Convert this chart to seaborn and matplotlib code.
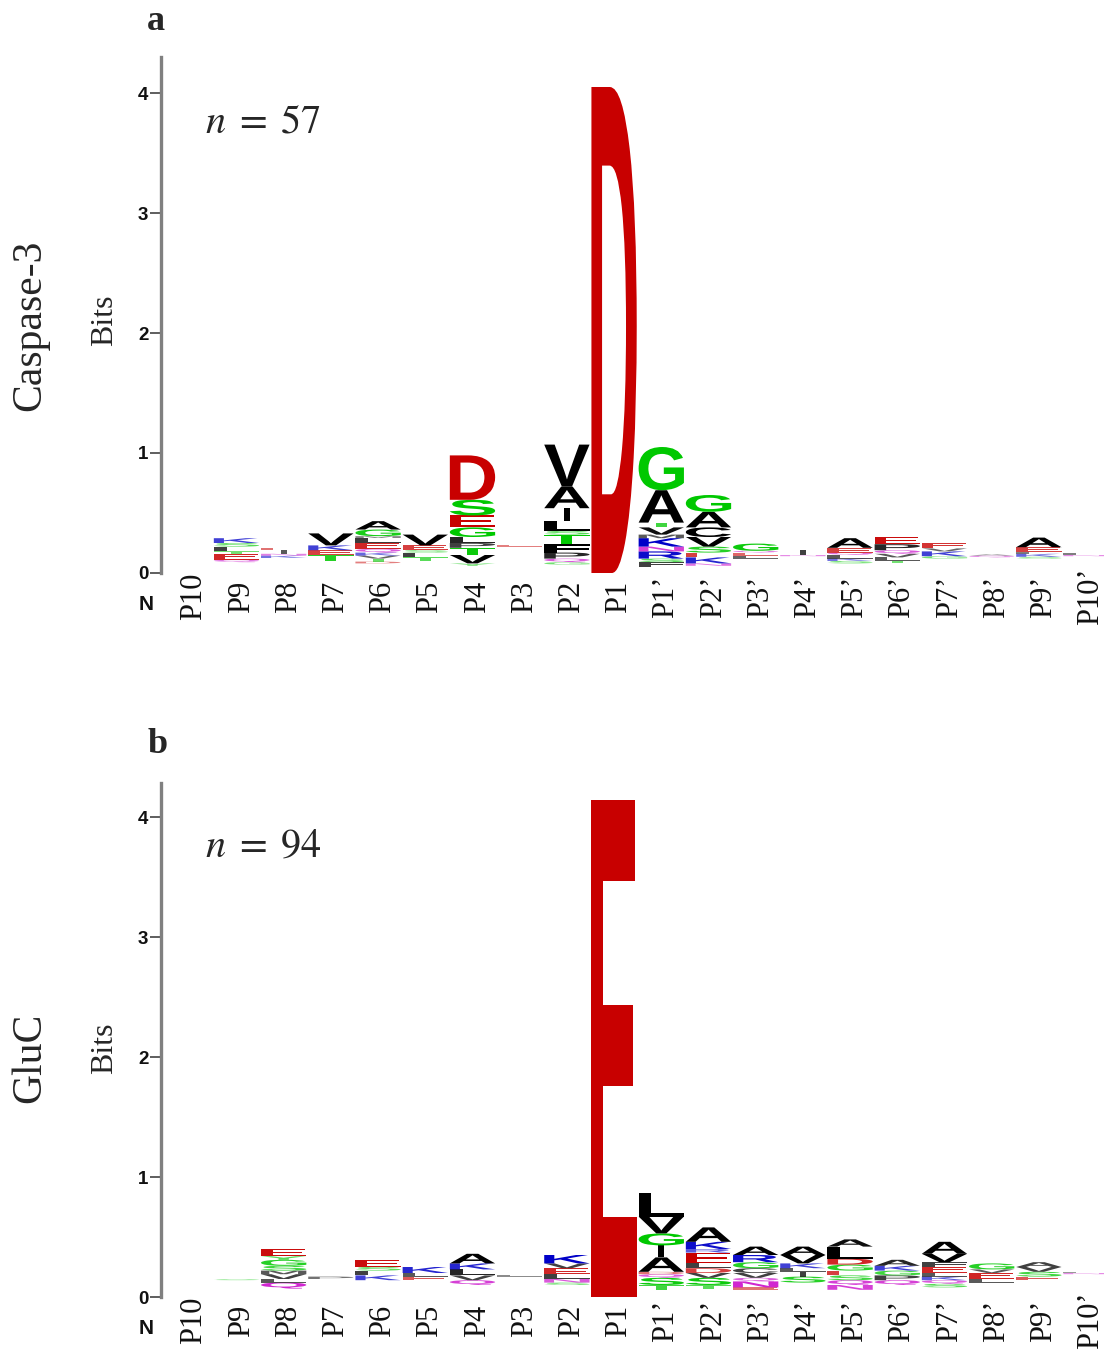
import matplotlib
matplotlib.use("Agg")
import matplotlib.pyplot as plt
import seaborn as sns
from matplotlib.textpath import TextPath
from matplotlib.patches import PathPatch
from matplotlib.font_manager import FontProperties
from matplotlib.transforms import Affine2D

# ---------------- data ----------------
positions = ["P10", "P9", "P8", "P7", "P6", "P5", "P4", "P3", "P2", "P1",
             "P1\u2019", "P2\u2019", "P3\u2019", "P4\u2019", "P5\u2019",
             "P6\u2019", "P7\u2019", "P8\u2019", "P9\u2019", "P10\u2019"]

# Caspase-3: residues (bottom -> top), heights in bits, and the bits taken by
# residues too small to be seen (drawn as an empty offset at the bottom)
casp_minor = [0.0, 0.09, 0.125, 0.10, 0.08, 0.10, 0.06, 0.22, 0.07, 0.0,
              0.05, 0.06, 0.12, 0.14, 0.08, 0.08, 0.12, 0.13, 0.12, 0.14]
casp_letters = ["", "QETLSK", "KNIE", "TEKV", "DTVKQELMGA", "TLSEV",
                "YVTPLGESD", "E", "GQPFTSLIAV", "D",
                "FSRNKMVTAG", "NKESVCAG", "LEQG", "NI", "SKLQEA",
                "TLVQPE", "GKVE", "QA", "SKLEA", "NL"]
casp_heights = [[], [0.02, 0.05, 0.02, 0.04, 0.03, 0.04],
                [0.02, 0.015, 0.03, 0.02],
                [0.05, 0.04, 0.04, 0.10],
                [0.015, 0.025, 0.025, 0.025, 0.03, 0.05, 0.042, 0.015, 0.055, 0.07],
                [0.03, 0.04, 0.02, 0.04, 0.09],
                [0.02, 0.07, 0.06, 0.04, 0.05, 0.08, 0.10, 0.13, 0.37],
                [0.015],
                [0.02, 0.03, 0.05, 0.07, 0.08, 0.03, 0.08, 0.11, 0.18, 0.35],
                [4.05],
                [0.04, 0.03, 0.06, 0.04, 0.07, 0.03, 0.06, 0.04, 0.27, 0.36],
                [0.02, 0.05, 0.04, 0.05, 0.08, 0.08, 0.13, 0.14],
                [0.025, 0.025, 0.015, 0.06],
                [0.01, 0.04],
                [0.02, 0.02, 0.03, 0.02, 0.04, 0.08],
                [0.02, 0.03, 0.03, 0.03, 0.05, 0.06],
                [0.02, 0.04, 0.025, 0.045],
                [0.015, 0.01],
                [0.015, 0.025, 0.015, 0.04, 0.08],
                [0.01, 0.015]]

# GluC
gluc_minor = [0.0, 0.14, 0.07, 0.15, 0.14, 0.14, 0.10, 0.17, 0.10, 0.0,
              0.06, 0.07, 0.06, 0.12, 0.06, 0.10, 0.08, 0.12, 0.14, 0.19]
gluc_letters = ["", "S", "QLVMSGYE", "P", "KLSE", "ELK", "QVLKA", "L",
                "SNLEVK", "E", "TSQDAIGVL", "TSVDLERKA", "ENQVCGRA",
                "SILKVA", "NQSEGDLA", "QPGKA", "SQKLEFVA", "LEVG", "ESVA", "NL"]
gluc_heights = [[], [0.01],
                [0.05, 0.03, 0.04, 0.03, 0.04, 0.05, 0.03, 0.06],
                [0.02],
                [0.04, 0.04, 0.03, 0.06],
                [0.03, 0.03, 0.05],
                [0.04, 0.04, 0.05, 0.05, 0.08],
                [0.01],
                [0.02, 0.03, 0.04, 0.05, 0.04, 0.07],
                [4.14],
                [0.04, 0.06, 0.03, 0.02, 0.12, 0.10, 0.10, 0.14, 0.20],
                [0.03, 0.06, 0.04, 0.04, 0.04, 0.09, 0.03, 0.06, 0.12],
                [0.02, 0.05, 0.03, 0.04, 0.04, 0.05, 0.06, 0.07],
                [0.05, 0.04, 0.03, 0.04, 0.07, 0.07],
                [0.04, 0.04, 0.04, 0.04, 0.05, 0.05, 0.10, 0.06],
                [0.04, 0.04, 0.04, 0.04, 0.05],
                [0.03, 0.03, 0.03, 0.03, 0.05, 0.04, 0.07, 0.10],
                [0.03, 0.05, 0.03, 0.05],
                [0.03, 0.04, 0.04, 0.04],
                [0.01, 0.005]]

panel_tags = ["a", "b"]
panel_names = ["Caspase-3", "GluC"]
panel_n = [57, 94]
yticks = [0, 1, 2, 3, 4]

# residue colour groups (chemistry scheme)
groups = {"GSTY": "#00c800", "NQ": "#c800c8", "KRH": "#0000c8",
          "DE": "#c80000", "AVLIPWFMC": "#000000"}
res_color = {aa: col for k, col in groups.items() for aa in k}

# ---------------- style ----------------
sns.set_theme(style="white")
plt.rcParams["font.family"] = ["Liberation Serif", "DejaVu Serif"]
plt.rcParams["mathtext.fontset"] = "stix"

W, H = 1104, 1359
fig = plt.figure(figsize=(W / 100, H / 100), dpi=100)

FP = FontProperties(family="Liberation Sans", weight="bold")
_cache = {}


def glyph(ch):
    if ch not in _cache:
        _cache[ch] = TextPath((0, 0), ch, size=1, prop=FP)
    return _cache[ch]


def draw_letter(ax, ch, x, y0, h, width=0.96):
    p = glyph(ch)
    bb = p.get_extents()
    w = width * (0.13 if ch == "I" else 1.0)
    tr = (Affine2D().translate(-bb.x0, -bb.y0)
          .scale(w / bb.width, h / bb.height)
          .translate(x - w / 2, y0))
    alpha = min(1.0, 0.35 + 10.0 * h)
    ax.add_patch(PathPatch(tr.transform_path(p), fc=res_color[ch], lw=0, alpha=alpha))


def draw_logo(ax, minor, letters, heights, shift=-0.1):
    for i, (m, lets, hs) in enumerate(zip(minor, letters, heights)):
        y = m
        for ch, h in zip(lets, hs):
            draw_letter(ax, ch, i + shift, y, h)
            y += h


panels = [
    dict(ax_rect=(161, 573, 57), minor=casp_minor, letters=casp_letters,
         heights=casp_heights, tag_xy=(156, 22), n_y=123, name_y=325, bits_y=320),
    dict(ax_rect=(161, 1297, 783), minor=gluc_minor, letters=gluc_letters,
         heights=gluc_heights, tag_xy=(158, 745), n_y=847, name_y=1058, bits_y=1048),
]

px = 47.2
x0c = 194
for k, pnl in enumerate(panels):
    left, ybot, ytop = pnl["ax_rect"]
    ax = fig.add_axes([left / W, 1 - ybot / H, (W - left) / W, (ybot - ytop) / H])
    draw_logo(ax, pnl["minor"], pnl["letters"], pnl["heights"])
    ax.set_xlim((left - x0c) / px, (W - x0c) / px)
    ax.set_ylim(0, (ybot - ytop) / 120.0)
    sns.despine(ax=ax, top=True, right=True, bottom=True, left=False)
    ax.spines["left"].set_color("#808080")
    ax.spines["left"].set_linewidth(2.4)
    ax.set_yticks(yticks)
    ax.set_yticklabels([str(v) for v in yticks], fontfamily="Liberation Sans",
                       fontweight="bold", fontsize=13.5, color="#111111")
    ax.tick_params(axis="y", left=True, length=8, width=1.1, color="#333333", pad=1)
    ax.set_xticks(range(len(positions)))
    ax.set_xticklabels(positions, rotation=90, fontsize=22, color="#111111")
    for lab in ax.get_xticklabels():
        lab.set_verticalalignment("center")
    ax.tick_params(axis="x", bottom=False, length=0, pad=17)
    ax.grid(False)
    ax.set_facecolor("none")

    fig.text(146 / W, 1 - (ybot + 32) / H, "N", fontfamily="Liberation Sans",
             fontweight="bold", fontsize=15, ha="center", va="center", color="#111111")
    fig.text(105 / W, 1 - pnl["bits_y"] / H, "Bits", rotation=90, fontsize=23,
             ha="center", va="center")
    fig.text(30 / W, 1 - pnl["name_y"] / H, panel_names[k], rotation=90, fontsize=30,
             ha="center", va="center")
    tx, ty = pnl["tag_xy"]
    fig.text(tx / W, 1 - ty / H, panel_tags[k], fontsize=26, fontweight="bold",
             ha="center", va="center")
    fig.text(205 / W, 1 - pnl["n_y"] / H, r"$n\;=\;%d$" % panel_n[k], fontsize=29,
             ha="left", va="center")

fig.savefig("out.png", dpi=100, facecolor="white")
